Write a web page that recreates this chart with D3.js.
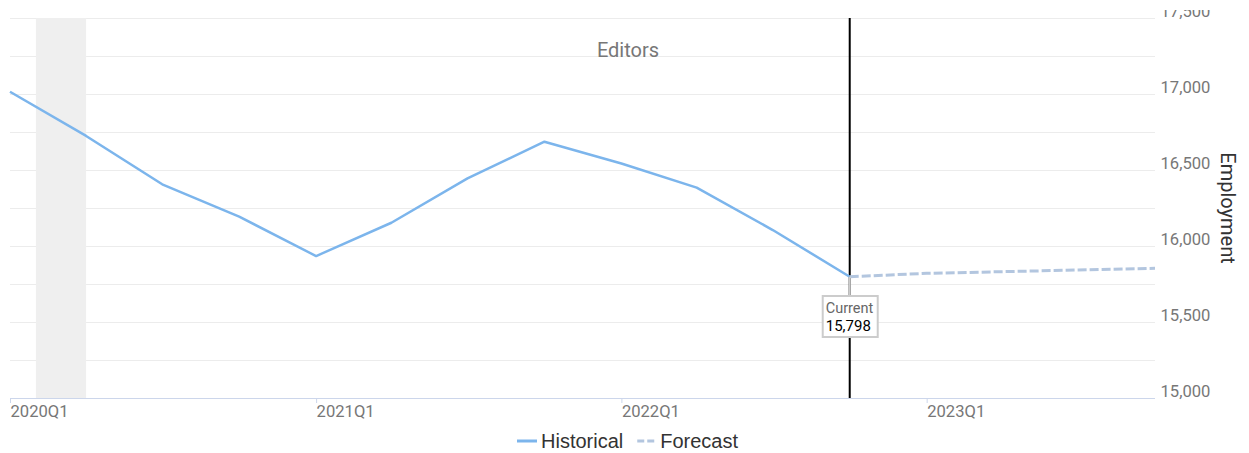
<!DOCTYPE html>
<html>
<head>
<meta charset="utf-8">
<script src="https://cdn.jsdelivr.net/npm/d3@7"></script>
<style>
	html, body { margin: 0; padding: 0; background: #fff; }
	svg { display: block; font-family: Roboto, "Noto Sans", sans-serif; }
</style>
</head>
<body>
<svg id="chart" width="1249" height="453"></svg>
<script>
// historical series, quarterly
const histQuarters = ['2020Q1', '2020Q2', '2020Q3', '2020Q4', '2021Q1', '2021Q2', '2021Q3', '2021Q4', '2022Q1', '2022Q2', '2022Q3', '2022Q4'];
const histValues = [17015, 16724, 16406, 16193, 15934, 16153, 16445, 16686, 16543, 16384, 16105, 15798];

// forecast starts from the current quarter
const forecastQuarters = ['2022Q4', '2023Q1', '2023Q2', '2023Q3', '2023Q4'];
const forecastValues = [15798, 15820, 15831, 15842, 15853];

const xTickLabels = ['2020Q1', '2021Q1', '2022Q1', '2023Q1'];
const yTicks = [15000, 15250, 15500, 15750, 16000, 16250, 16500, 16750, 17000, 17250, 17500];
const yLabelTicks = [15000, 15500, 16000, 16500, 17000, 17500];

// recession band (month starts)
const recession = ['2020-02-01', '2020-04-01'];

const currentQuarter = '2022Q4';
const currentValue = 15798;

const chartTitle = 'Editors';
const yTitle = 'Employment';
const legendItems = ['Historical', 'Forecast'];

function parseQuarter(q) {
	let year = +q.slice(0, 4);
	let quarter = +q.slice(5);
	return new Date(Date.UTC(year, (quarter - 1) * 3, 1));
}

const svg = d3.select('#chart');

const plotLeft = 10, plotRight = 1155, plotTop = 18, plotBottom = 398;

let x = d3.scaleUtc()
	.domain([parseQuarter('2020Q1'), parseQuarter('2023Q4')])
	.range([plotLeft, 1155]);

let y = d3.scaleLinear()
	.domain([15000, 17500])
	.range([plotBottom, plotTop]);

// grid
svg.append('g')
	.selectAll('line')
	.data(yTicks)
	.join('line')
	.attr('x1', plotLeft)
	.attr('x2', plotRight)
	.attr('y1', (d) => y(d) + 0.5)
	.attr('y2', (d) => y(d) + 0.5)
	.attr('stroke', '#ececec')
	.attr('stroke-width', 1);

// recession band
svg.append('rect')
	.attr('x', x(new Date(recession[0])))
	.attr('y', plotTop)
	.attr('width', x(new Date(recession[1])) - x(new Date(recession[0])))
	.attr('height', plotBottom - plotTop)
	.attr('fill', '#efefef');

// x axis
let xAxis = svg.append('g')
	.attr('transform', `translate(0,${plotBottom})`);

xAxis.append('line')
	.attr('x1', plotLeft)
	.attr('x2', plotRight)
	.attr('y1', 0.5)
	.attr('y2', 0.5)
	.attr('stroke', '#ccd6eb');

let xTick = xAxis.selectAll('.tick')
	.data(xTickLabels)
	.join('g')
	.attr('class', 'tick')
	.attr('transform', (d) => `translate(${x(parseQuarter(d))},0)`);

xTick.append('line')
	.attr('x1', 0.5).attr('x2', 0.5)
	.attr('y1', 0).attr('y2', 5)
	.attr('stroke', '#ccd6eb');

xTick.append('text')
	.attr('x', 0.5)
	.attr('y', 19)
	.attr('fill', '#777')
	.style('font-size', '16.6px')
	.text((d) => d);

// y labels on the right, top one gets clipped
svg.append('clipPath')
	.attr('id', 'yclip')
	.append('rect')
	.attr('x', 1150).attr('y', 10)
	.attr('width', 100).attr('height', 440);

svg.append('g')
	.attr('clip-path', 'url(#yclip)')
	.selectAll('text')
	.data(yLabelTicks)
	.join('text')
	.attr('x', 1160.5)
	.attr('y', (d) => y(d) - 1)
	.attr('fill', '#777')
	.style('font-size', '16.6px')
	.text((d) => d3.format(',')(d));

svg.append('text')
	.attr('transform', `translate(1221,${(plotTop + plotBottom) / 2}) rotate(90)`)
	.attr('text-anchor', 'middle')
	.attr('fill', '#333')
	.style('font-size', '20px')
	.text(yTitle);

// title
svg.append('text')
	.attr('x', 628)
	.attr('y', 57)
	.attr('text-anchor', 'middle')
	.attr('fill', '#777')
	.style('font-size', '20px')
	.text(chartTitle);

// current marker line
let cx = x(parseQuarter(currentQuarter));
svg.append('line')
	.attr('x1', cx).attr('x2', cx)
	.attr('y1', plotTop).attr('y2', plotBottom)
	.attr('stroke', '#000')
	.attr('stroke-width', 2);

// lines
let line = d3.line()
	.x((d) => x(parseQuarter(d.q)))
	.y((d) => y(d.v));

svg.append('path')
	.datum(histQuarters.map((q, i) => ({q: q, v: histValues[i]})))
	.attr('d', line)
	.attr('fill', 'none')
	.attr('stroke', '#7cb5ec')
	.attr('stroke-width', 2.5)
	.attr('stroke-linejoin', 'round');

svg.append('path')
	.datum(forecastQuarters.map((q, i) => ({q: q, v: forecastValues[i]})))
	.attr('d', line)
	.attr('fill', 'none')
	.attr('stroke', '#b3c6df')
	.attr('stroke-width', 3)
	.attr('stroke-dasharray', '9,3');

// current label
let cy = y(currentValue);
let boxTop = 296, boxH = 41, boxW = 55;
svg.append('line')
	.attr('x1', cx).attr('x2', cx)
	.attr('y1', cy).attr('y2', boxTop)
	.attr('stroke', '#cccccc')
	.attr('stroke-width', 2);

svg.append('rect')
	.attr('x', cx - 27)
	.attr('y', boxTop)
	.attr('width', boxW)
	.attr('height', boxH)
	.attr('fill', '#fff')
	.attr('stroke', '#cccccc')
	.attr('stroke-width', 2);

svg.append('text')
	.attr('x', cx - 24)
	.attr('y', boxTop + 17)
	.attr('fill', '#666')
	.style('font-size', '14.5px')
	.text('Current');

svg.append('text')
	.attr('x', cx - 24)
	.attr('y', boxTop + 35)
	.attr('fill', '#000')
	.style('font-size', '15px')
	.text(d3.format(',')(currentValue));

// legend
let legend = svg.append('g')
	.style('font-family', '"Liberation Sans", Arial, sans-serif')
	.style('font-size', '20px');

let lx = 517;
legendItems.forEach((name, i) => {
	let g = legend.append('g').attr('transform', `translate(${lx},441)`);
	g.append('line')
		.attr('x1', 0).attr('x2', i === 0 ? 20 : 17)
		.attr('y1', 0).attr('y2', 0)
		.attr('stroke', i === 0 ? '#7cb5ec' : '#b3c6df')
		.attr('stroke-width', 3)
		.attr('stroke-dasharray', i === 0 ? null : '7,3');
	let t = g.append('text')
		.attr('x', i === 0 ? 24 : 23)
		.attr('y', 7)
		.attr('fill', '#333')
		.text(name);
	lx += (i === 0 ? 24 : 23) + t.node().getComputedTextLength() + 14;
});
</script>
</body>
</html>
